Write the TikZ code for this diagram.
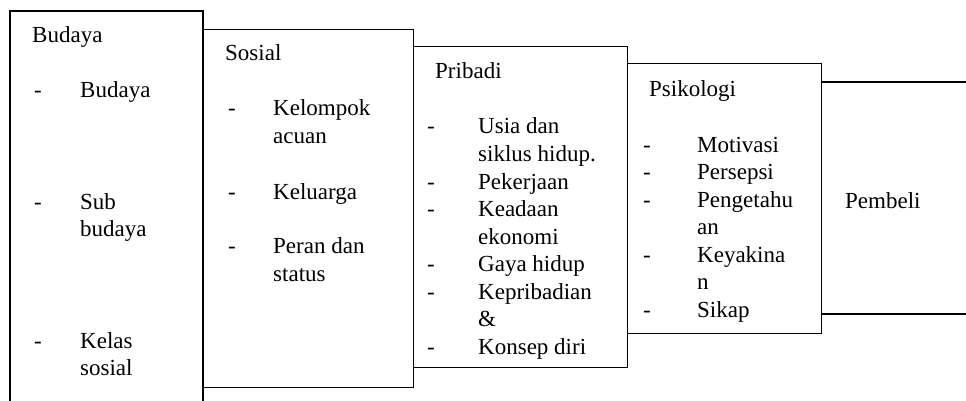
\documentclass[tikz,border=0pt]{standalone}
\usepackage{fontspec}
\setmainfont{Liberation Serif}
\begin{document}
\begin{tikzpicture}[x=1pt,y=-1pt,
  frame/.style={draw=black, line width=1.3pt},
  boxnode/.style={frame, rectangle, inner sep=0pt, anchor=north west},
  txt/.style={anchor=base west, inner sep=0pt, font=\fontsize{23}{27}\selectfont}]
\useasboundingbox (0,0) rectangle (966,401);
% Budaya (open at bottom)
\coordinate (bl) at (10,405);
\coordinate (br) at (203,405);
\draw[frame] (bl) -- (10,11) -- (203,11) -- (br);
% Sosial, Pribadi, Psikologi boxes
\node[boxnode, minimum width=210pt, minimum height=358pt] (sosial) at (203,29) {};
\node[boxnode, minimum width=214pt, minimum height=321pt] (pribadi) at (413,46) {};
\node[boxnode, minimum width=194pt, minimum height=270pt] (psikologi) at (627,63) {};
% Pembeli (open at right)
\coordinate (pt) at (966,82);
\coordinate (pb) at (966,314);
\draw[frame] (psikologi.north east |- pt) -- (pt);
\draw[frame] (psikologi.north east |- pb) -- (pb);
% Budaya texts
\node[txt] (t1) at (32,43) {Budaya};
\node[txt] (d11) at (34,98) {-};
\node[txt] (i11) at (80,98) {Budaya};
\node[txt] (d12) at (34,209) {-};
\node[txt] (i12) at (80,209) {Sub};
\node[txt] (i12b) at (80,236.5) {budaya};
\node[txt] (d13) at (34,348) {-};
\node[txt] (i13) at (80,348) {Kelas};
\node[txt] (i13b) at (80,375.5) {sosial};
% Sosial texts
\node[txt] (t2) at (225,61) {Sosial};
\node[txt] (d21) at (228,116) {-};
\node[txt] (i21) at (273,116) {Kelompok};
\node[txt] (i21b) at (273,143.5) {acuan};
\node[txt] (d22) at (228,199) {-};
\node[txt] (i22) at (273,199) {Keluarga};
\node[txt] (d23) at (228,253.5) {-};
\node[txt] (i23) at (273,253.5) {Peran dan};
\node[txt] (i23b) at (273,281) {status};
% Pribadi texts
\node[txt] (t3) at (435,79) {Pribadi};
\node[txt] (d31) at (427,134) {-};
\node[txt] (i31) at (478,134) {Usia dan};
\node[txt] (i31b) at (478,161.5) {siklus hidup.};
\node[txt] (d32) at (427,189) {-};
\node[txt] (i32) at (478,189) {Pekerjaan};
\node[txt] (d33) at (427,216.5) {-};
\node[txt] (i33) at (478,216.5) {Keadaan};
\node[txt] (i33b) at (478,244) {ekonomi};
\node[txt] (d34) at (427,271.5) {-};
\node[txt] (i34) at (478,271.5) {Gaya hidup};
\node[txt] (d35) at (427,299) {-};
\node[txt] (i35) at (478,299) {Kepribadian};
\node[txt] (i35b) at (478,326.5) {\&};
\node[txt] (d36) at (427,354) {-};
\node[txt] (i36) at (478,354) {Konsep diri};
% Psikologi texts
\node[txt] (t4) at (649,97) {Psikologi};
\node[txt] (d41) at (643,152) {-};
\node[txt] (i41) at (697,152) {Motivasi};
\node[txt] (d42) at (643,179.5) {-};
\node[txt] (i42) at (697,179.5) {Persepsi};
\node[txt] (d43) at (643,207) {-};
\node[txt] (i43) at (697,207) {Pengetahu};
\node[txt] (i43b) at (697,234.5) {an};
\node[txt] (d44) at (643,262) {-};
\node[txt] (i44) at (697,262) {Keyakina};
\node[txt] (i44b) at (697,289.5) {n};
\node[txt] (d45) at (643,317) {-};
\node[txt] (i45) at (697,317) {Sikap};
% Pembeli
\node[txt] (t5) at (845,208) {Pembeli};
\end{tikzpicture}
\end{document}
